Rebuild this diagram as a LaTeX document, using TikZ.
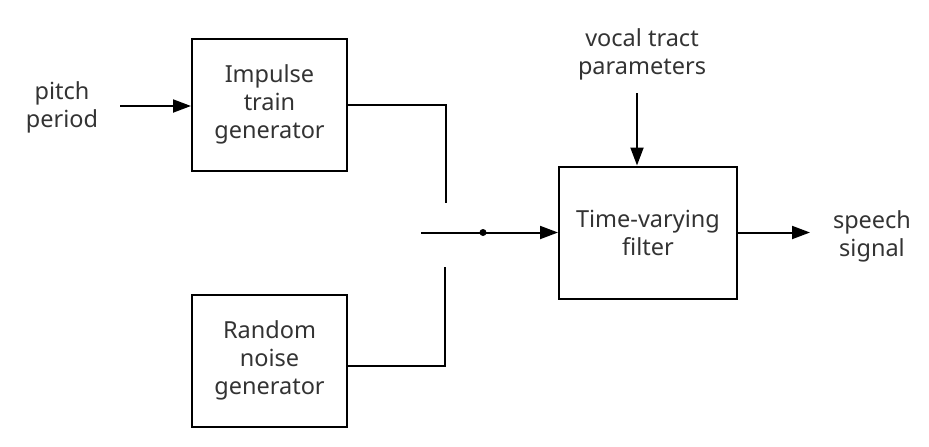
\documentclass[tikz,border=0pt]{standalone}
\usepackage{fontspec}
\setmainfont{Noto Sans}
\usetikzlibrary{arrows.meta}
\definecolor{txt}{RGB}{51,51,51}
\begin{document}
\begin{tikzpicture}[x=1pt,y=-1pt,
  blk/.style={draw=black,line width=2pt,minimum width=155pt,minimum height=132pt,inner sep=0pt},
  lbl/.style={text=txt,font=\fontsize{23.5}{28}\selectfont,align=center},
  wire/.style={line width=2pt},
  arr/.style={line width=2pt,-{Triangle[length=18pt,width=13pt]}}]
\useasboundingbox (0,0) rectangle (929,447);
\node[blk] (imp) at (269.5,104.5) {};
\node[lbl] (impt) at (imp.center) {Impulse\\train\\generator};
\node[blk] (rng) at (269.5,360.5) {};
\node[lbl] (rngt) at (rng.center) {Random\\noise\\generator};
\node[blk,minimum width=178pt] (flt) at (648,232.5) {};
\node[lbl] (fltt) at (flt.center) {Time-varying\\filter};
\node[lbl] (pitch) at (62,107) {pitch\\period};
\node[lbl] (vocal) at (642,54) {vocal tract\\parameters};
\node[lbl] (speech) at (872,236) {speech\\signal};
\coordinate (p0) at (120,106);
\coordinate (v0) at (637,93);
\coordinate (ia) at (446,104.5);
\coordinate (ib) at (446,203);
\coordinate (na) at (445,365.5);
\coordinate (nb) at (445,267);
\coordinate (sw) at (421,232.5);
\coordinate (dot) at (483,232.5);
\coordinate (sp) at (810,232.5);
\draw[arr] (p0) -- (p0 -| imp.west);
\draw[arr] (v0) -- (v0 |- flt.north);
\draw[wire] (imp.east |- ia) -- (ia) -- (ib);
\draw[wire] (rng.east |- na) -- (na) -- (nb);
\draw[arr] (sw) -- (flt.west);
\fill (dot) circle (3.5pt);
\draw[arr] (flt.east) -- (sp);
\end{tikzpicture}
\end{document}
